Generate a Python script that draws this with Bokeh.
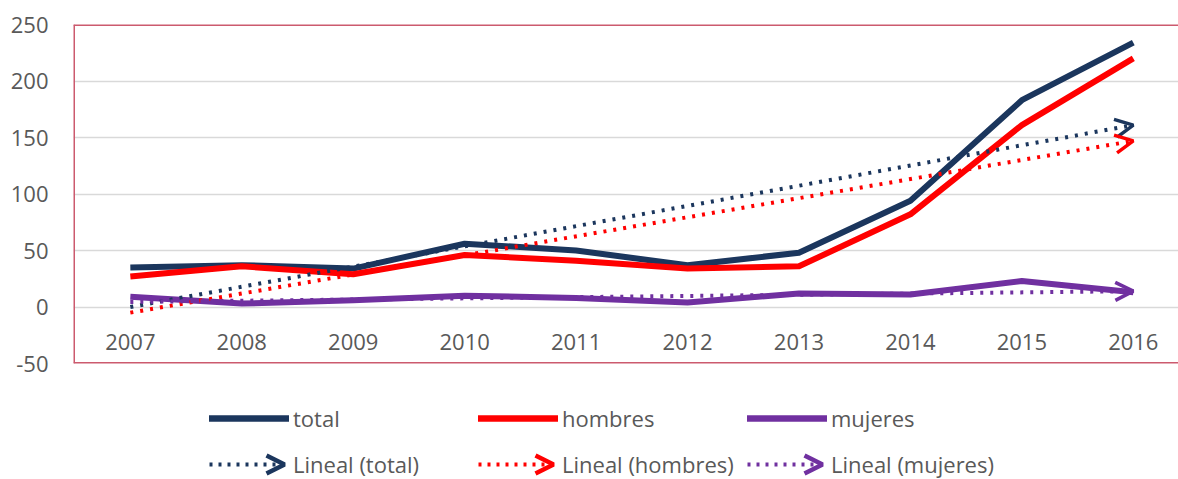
from bokeh.plotting import figure
from bokeh.layouts import column
from bokeh.models import (Range1d, LinearAxis, FixedTicker, Span, Legend,
                          LegendItem, Arrow, OpenHead)
from bokeh.embed import file_html
from bokeh.resources import INLINE

# ---- data ----
years = [2007, 2008, 2009, 2010, 2011, 2012, 2013, 2014, 2015, 2016]
total = [35, 37, 34, 56, 50, 37, 48, 94, 183, 234]
hombres = [27, 36, 29, 46, 41, 34, 36, 82, 161, 220]
mujeres = [9, 3, 6, 10, 8, 4, 12, 11, 23, 13]

# linear trend lines (end points)
trend_years = [2007, 2016]
trend_total = [0, 161]
trend_hombres = [-5, 147]
trend_mujeres = [4.5, 14]

y_ticks = [-50, 0, 50, 100, 150, 200, 250]
series_labels = ["total", "hombres", "mujeres"]
trend_labels = ["Lineal (total)", "Lineal (hombres)", "Lineal (mujeres)"]

NAVY = "#1B365D"
RED = "#FF0000"
PURPLE = "#7030A0"
COLORS = [NAVY, RED, PURPLE]
BORDER = "#CC5A6E"
GRID = "#D9D9D9"
TEXT = "#595959"
FONT = "Open Sans"
FSIZE = "22px"

W = 1178
BORDER_L = 73
FW = W - BORDER_L          # frame width
X0 = 2006.49
PX_PER_YEAR = 111.44
H_TOP = 24
H_FRAME = 339
H_BOTTOM = 30

# ------------------------------------------------------------------ chart
p = figure(width=W, height=H_TOP + H_FRAME + H_BOTTOM,
           x_range=Range1d(X0, X0 + FW / PX_PER_YEAR), y_range=Range1d(-50, 250),
           output_backend="svg", toolbar_location=None,
           x_axis_location=None, y_axis_location="left",
           min_border_left=BORDER_L, min_border_right=0,
           min_border_top=H_TOP, min_border_bottom=H_BOTTOM)
p.outline_line_color = None

p.yaxis.ticker = FixedTicker(ticks=y_ticks)
p.yaxis.major_label_overrides = {-50: "-50"}
p.yaxis.axis_line_color = None
p.yaxis.major_tick_line_color = None
p.yaxis.minor_tick_line_color = None
p.yaxis.major_tick_out = 0
p.yaxis.major_tick_in = 0
p.yaxis.major_label_standoff = 25
p.yaxis.major_label_text_font = FONT
p.yaxis.major_label_text_font_size = FSIZE
p.yaxis.major_label_text_color = TEXT

for g in p.xgrid:
    g.visible = False
p.ygrid.ticker = FixedTicker(ticks=y_ticks)
p.ygrid.grid_line_color = GRID
p.ygrid.grid_line_width = 1.5

xaxis = LinearAxis(ticker=FixedTicker(ticks=years), fixed_location=0,
                   axis_line_color=None, major_tick_line_color=None,
                   minor_tick_line_color=None, major_tick_out=0, major_tick_in=0,
                   major_label_standoff=27, major_label_text_font=FONT,
                   major_label_text_font_size=FSIZE, major_label_text_color=TEXT)
p.add_layout(xaxis, "below")

for loc in (250, -50):
    p.add_layout(Span(location=loc, dimension="width", line_color=BORDER, line_width=3))
p.add_layout(Span(location=X0, dimension="height", line_color=BORDER, line_width=3))

p.line(years, total, line_color=NAVY, line_width=6, line_join="round")
p.line(years, hombres, line_color=RED, line_width=6, line_join="round")
p.line(years, mujeres, line_color=PURPLE, line_width=6, line_join="round")

for ty, col in ((trend_total, NAVY), (trend_hombres, RED), (trend_mujeres, PURPLE)):
    p.line(trend_years, ty, line_color=col, line_width=4, line_dash="3 7")
    p.add_layout(Arrow(end=OpenHead(size=18, line_color=col, line_width=3.5),
                       x_start=trend_years[0], y_start=ty[0],
                       x_end=trend_years[-1], y_end=ty[-1], line_alpha=0))

# ------------------------------------------------------------------ legend
LH = 479 - (H_TOP + H_FRAME + H_BOTTOM)   # legend strip height
GLYPH_W = 80
STANDOFF = 4
LABEL_W = 185
PITCH = GLYPH_W + STANDOFF + LABEL_W
ROW_H = 46
LEG_X = 136          # from frame left
LEG_Y = -8           # from strip bottom

q = figure(width=W, height=LH, x_range=Range1d(0, FW), y_range=Range1d(0, LH),
           output_backend="svg", toolbar_location=None,
           x_axis_location=None, y_axis_location=None,
           min_border_left=BORDER_L, min_border_right=0,
           min_border_top=0, min_border_bottom=0)
q.outline_line_color = None
q.xgrid.visible = False
q.ygrid.visible = False

# hidden proxies that carry the legend styles of each series
series_data = [total, hombres, mujeres]
trend_data = [trend_total, trend_hombres, trend_mujeres]
solid = [q.line(years, d, line_color=c, line_width=6.5, line_cap="round", visible=False)
         for d, c in zip(series_data, COLORS)]
dotted = [q.line(trend_years, d, line_color=c, line_width=4, line_dash="3 6", visible=False)
          for d, c in zip(trend_data, COLORS)]

items = [LegendItem(label=l, renderers=[r]) for l, r in zip(series_labels, solid)]
items += [LegendItem(label=l, renderers=[r]) for l, r in zip(trend_labels, dotted)]

legend = Legend(items=items, orientation="horizontal", ncols=3,
                location=(LEG_X, LEG_Y), glyph_width=GLYPH_W, glyph_height=ROW_H,
                label_height=ROW_H, label_width=LABEL_W, label_standoff=STANDOFF,
                spacing=0, padding=0, margin=0, border_line_color=None,
                background_fill_alpha=0, label_text_font=FONT,
                label_text_font_size=FSIZE, label_text_color=TEXT)
q.add_layout(legend)

# arrow heads of the trend legend entries
for i, c in enumerate(COLORS):
    tip = LEG_X + i * PITCH + 75
    yc = LEG_Y + ROW_H / 2
    q.add_layout(Arrow(end=OpenHead(size=18, line_color=c, line_width=4.5),
                       x_start=tip - 10, y_start=yc, x_end=tip, y_end=yc,
                       line_alpha=0))

layout = column(p, q, spacing=0)
open("out.html", "w").write(file_html(layout, INLINE))
